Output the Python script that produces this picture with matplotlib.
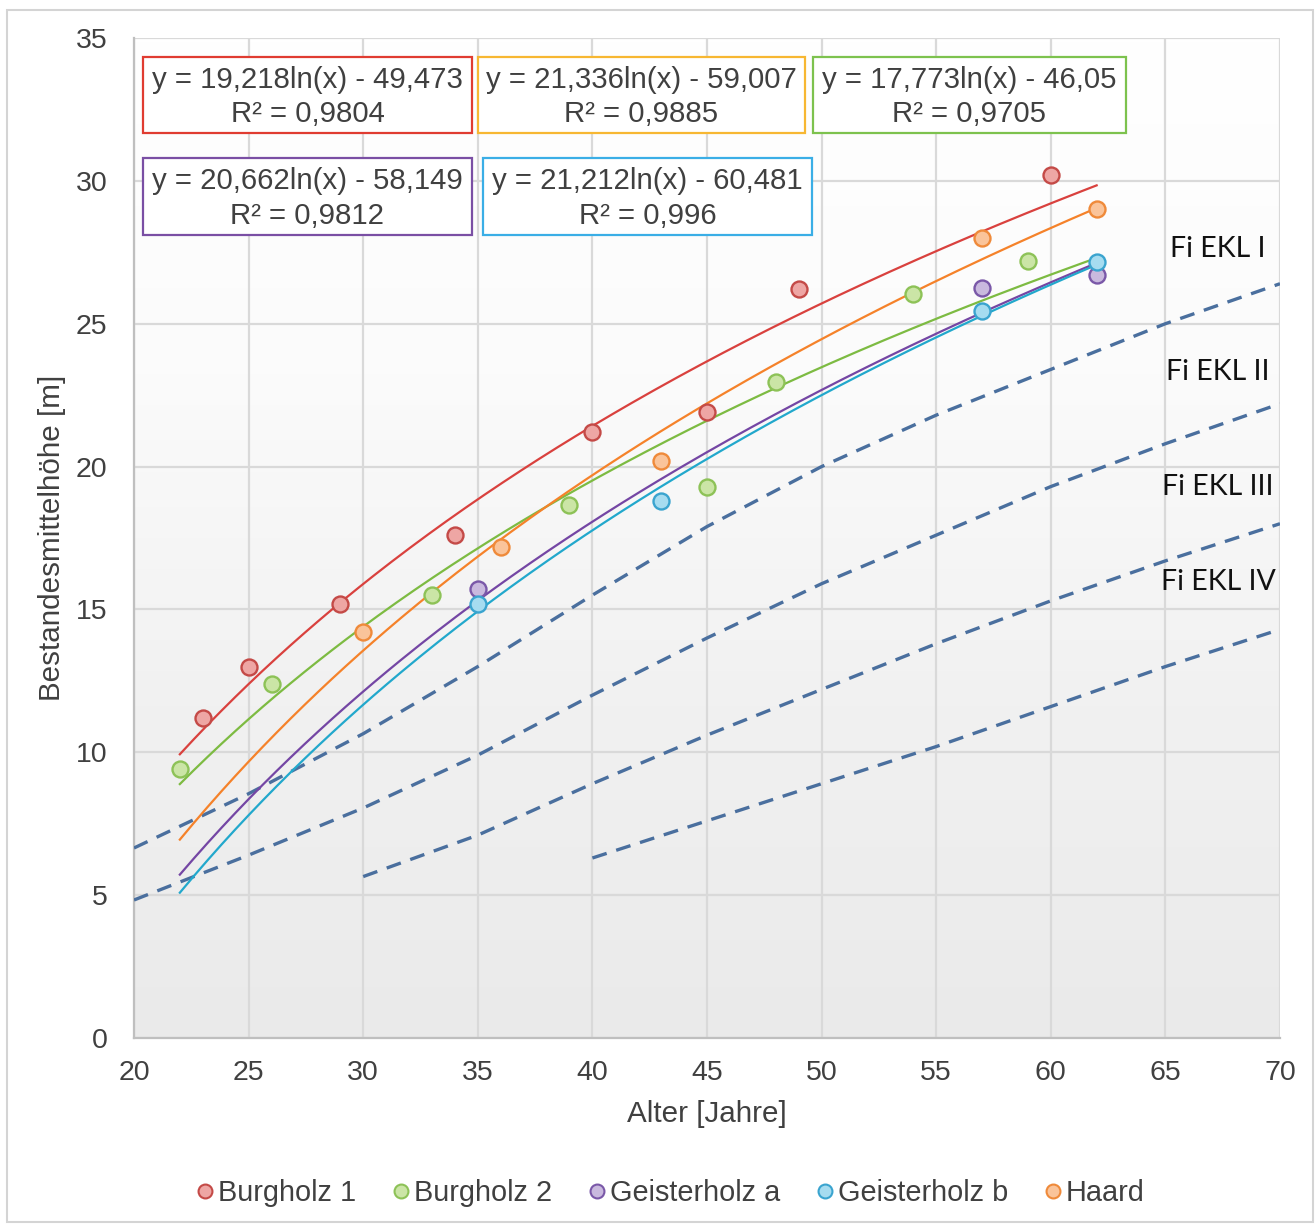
import numpy as np
import matplotlib
matplotlib.use("Agg")
import matplotlib.pyplot as plt
from matplotlib.colors import LinearSegmentedColormap
from matplotlib.patches import Rectangle
from matplotlib.lines import Line2D

plt.rcParams["font.family"] = ["Liberation Sans", "DejaVu Sans"]

# Stand measurements: age [years] and mean stand height [m]
burgholz1_x = [23, 25, 29, 34, 40, 45, 49, 60]
burgholz1_y = [11.2, 13.0, 15.2, 17.6, 21.2, 21.9, 26.2, 30.2]
burgholz2_x = [22, 26, 33, 39, 45, 48, 54, 59]
burgholz2_y = [9.4, 12.4, 15.5, 18.65, 19.3, 22.95, 26.05, 27.2]
geister_a_x = [35, 57, 62]
geister_a_y = [15.7, 26.25, 26.7]
geister_b_x = [35, 43, 57, 62]
geister_b_y = [15.2, 18.8, 25.45, 27.15]
haard_x = [30, 36, 43, 57, 62]
haard_y = [14.2, 17.2, 20.2, 28.0, 29.0]

# Log trend lines y = a*ln(x) + b
fits = {
    "Burgholz 1": (19.218, -49.473, 0.9804),
    "Burgholz 2": (17.773, -46.05, 0.9705),
    "Geisterholz a": (20.662, -58.149, 0.9812),
    "Geisterholz b": (21.212, -60.481, 0.996),
    "Haard": (21.336, -59.007, 0.9885),
}
fit_range = (22, 62)

# Spruce yield class boundaries (Fi EKL)
ekl1_x = [20, 25, 30, 35, 40, 45, 50, 55, 60, 65, 70]
ekl1_y = [6.65, 8.55, 10.65, 13.0, 15.5, 17.9, 20.0, 21.8, 23.4, 25.0, 26.4]
ekl2_x = [20, 25, 30, 35, 40, 45, 50, 55, 60, 65, 70]
ekl2_y = [4.83, 6.4, 8.05, 9.9, 12.0, 14.0, 15.9, 17.6, 19.3, 20.8, 22.2]
ekl3_x = [30, 35, 40, 45, 50, 55, 60, 65, 70]
ekl3_y = [5.65, 7.1, 8.9, 10.6, 12.2, 13.8, 15.3, 16.7, 18.0]
ekl4_x = [40, 45, 50, 55, 60, 65, 70]
ekl4_y = [6.3, 7.6, 8.9, 10.2, 11.6, 13.0, 14.3]
ekl_labels = ["Fi EKL I", "Fi EKL II", "Fi EKL III", "Fi EKL IV"]
ekl_label_y = [27.6, 23.3, 19.3, 15.95]

series = [
    ("Burgholz 1", burgholz1_x, burgholz1_y, "#d9413e", "#c44a47", "#eea6a4", "#e03c31"),
    ("Burgholz 2", burgholz2_x, burgholz2_y, "#7dbb42", "#8dc257", "#cbe5a6", "#7dc24e"),
    ("Geisterholz a", geister_a_x, geister_a_y, "#7446a4", "#7a58a8", "#c9b9de", "#7a4fa4"),
    ("Geisterholz b", geister_b_x, geister_b_y, "#22a8cc", "#3aa4cf", "#a6dcf0", "#3aaee6"),
    ("Haard", haard_x, haard_y, "#f5822a", "#ef8a3a", "#fac49a", "#f7b732"),
]

fig = plt.figure(figsize=(13.16, 12.24), dpi=100)
ax = fig.add_axes([134 / 1316, 1 - 1038 / 1224, 1146 / 1316, 1000 / 1224])

# soft grey gradient in the plotting area
grad = LinearSegmentedColormap.from_list("bg", ["#eaeaea", "#f1f1f1", "#fbfbfb", "#ffffff"])
ax.imshow(np.linspace(0, 1, 256).reshape(-1, 1), extent=[20, 70, 0, 35], aspect="auto",
          cmap=grad, origin="lower", zorder=0)

ax.set_xlim(20, 70)
ax.set_ylim(0, 35)
ax.set_xticks(range(20, 71, 5))
ax.set_yticks(range(0, 36, 5))
ax.grid(True, color="#d9d9d9", linewidth=1.6, zorder=1)
ax.set_axisbelow(True)
for s in ["top", "right"]:
    ax.spines[s].set_visible(False)
for s in ["left", "bottom"]:
    ax.spines[s].set_color("#bfbfbf")
    ax.spines[s].set_linewidth(1.6)
ax.tick_params(length=0, labelsize=20.5, labelcolor="#404040")
ax.tick_params(axis="y", pad=19)
ax.tick_params(axis="x", pad=16)

# yield class boundaries
for ex, ey in [(ekl1_x, ekl1_y), (ekl2_x, ekl2_y), (ekl3_x, ekl3_y), (ekl4_x, ekl4_y)]:
    ax.plot(ex, ey, color="#4a6f9e", linewidth=2.4, dashes=(4.5, 3), zorder=3)
for lbl, ly in zip(ekl_labels, ekl_label_y):
    ax.text(67.3, ly, lbl, fontsize=20.5, family=["Lato", "DejaVu Sans"], color="#111111",
            ha="center", va="center", zorder=5)

# trend lines and measurements
xx = np.linspace(fit_range[0], fit_range[1], 200)
for name, sx, sy, lc, ec, fc, bc in series:
    a, b, r2 = fits[name]
    ax.plot(xx, a * np.log(xx) + b, color=lc, linewidth=1.6, zorder=4)
for name, sx, sy, lc, ec, fc, bc in series:
    ax.plot(sx, sy, "o", markersize=11.5, markerfacecolor=fc, markeredgecolor=ec,
            markeredgewidth=1.7, linestyle="none", zorder=6)

# equation boxes (pixel positions in the figure)
boxes = {
    "Burgholz 1": (143, 57, 472, 133),
    "Haard": (478, 57, 805, 133),
    "Burgholz 2": (813, 57, 1126, 133),
    "Geisterholz a": (143, 158, 472, 235),
    "Geisterholz b": (483, 158, 812, 235),
}
W, H = 1316, 1224


def fmt(v):
    return f"{v:g}".replace(".", ",")


for name, sx, sy, lc, ec, fc, bc in series:
    x0, y0, x1, y1 = boxes[name]
    a, b, r2 = fits[name]
    fig.patches.append(Rectangle((x0 / W, 1 - y1 / H), (x1 - x0) / W, (y1 - y0) / H,
                                 transform=fig.transFigure, facecolor="white",
                                 edgecolor=bc, linewidth=1.6, zorder=7))
    eq = f"y = {a:.3f}ln(x) - {fmt(-b)}".replace(".", ",")
    txt = f"{eq}\nR² = {fmt(r2)}"
    fig.text((x0 + x1) / 2 / W, 1 - ((y0 + y1) / 2 + 2) / H, txt, fontsize=21.2, color="#404040",
             ha="center", va="center", linespacing=1.28, zorder=8)

# axis titles
fig.text(52 / W, 1 - 538 / H, "Bestandesmittelhöhe [m]", rotation=90, fontsize=21.3,
         color="#404040", ha="center", va="center")
fig.text(707 / W, 1 - 1114 / H, "Alter [Jahre]", fontsize=21.3, color="#404040",
         ha="center", va="center")

# legend
handles = [Line2D([], [], marker="o", linestyle="none", markersize=10, markerfacecolor=fc,
                  markeredgecolor=ec, markeredgewidth=1.5)
           for name, sx, sy, lc, ec, fc, bc in series]
fig.legend(handles, [s[0] for s in series], loc="center", bbox_to_anchor=(671 / W, 1 - 1193 / H),
           ncol=5, frameon=False, fontsize=20.8, handlelength=0.5, handletextpad=0.2,
           columnspacing=1.3, labelcolor="#404040")

# outer frame
fig.patches.append(Rectangle((7 / W, 1 - 1222 / H), 1306 / W, 1212 / H, transform=fig.transFigure,
                             facecolor="none", edgecolor="#d4d4d4", linewidth=1.5))

fig.savefig("out.png", dpi=100)
